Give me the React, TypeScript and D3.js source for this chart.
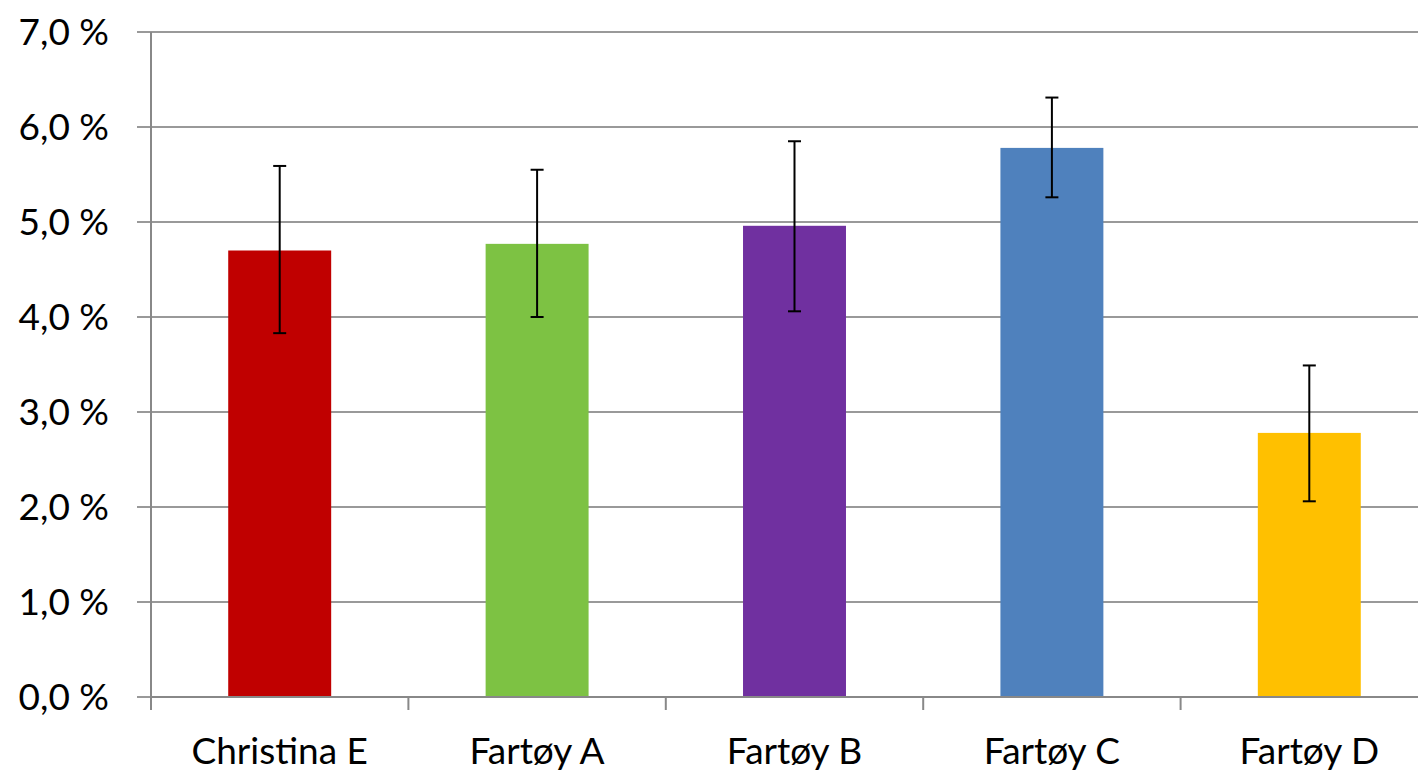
import React from "react";
import * as d3 from "d3";

const categories = ["Christina E", "Fartøy A", "Fartøy B", "Fartøy C", "Fartøy D"];
const values = [4.7, 4.77, 4.96, 5.78, 2.78];
const errLow = [3.83, 4.0, 4.06, 5.26, 2.06];
const errHigh = [5.59, 5.55, 5.85, 6.31, 3.49];
const barColors = ["#C00000", "#7DC243", "#7030A0", "#4F81BD", "#FFC000"];
const yTicks = [0, 1, 2, 3, 4, 5, 6, 7];

const W = 1418;
const H = 774;
const margin = { left: 151, top: 32, right: -20, bottom: 77 };

export default function App() {
  const innerW = W - margin.left - margin.right;
  const innerH = H - margin.top - margin.bottom;

  const x = d3.scaleBand<string>().domain(categories).range([0, innerW]).padding(0);
  const y = d3.scaleLinear().domain([0, 7]).range([innerH, 0]);
  const barW = x.bandwidth() * 0.4;
  const fmt = (v: number) => v.toFixed(1).replace(".", ",") + " %";
  const font = "Lato, 'Open Sans', sans-serif";

  return (
    <svg
      width={W}
      height={H}
      style={{ position: "absolute", left: 0, top: 0, background: "#fff" }}
    >
      <g transform={`translate(${margin.left},${margin.top})`}>
        {yTicks.map((t) => (
          <g key={t}>
            <line x1={-14} x2={innerW} y1={y(t)} y2={y(t)} stroke="#999" strokeWidth={2} />
            <text
              x={-42}
              y={y(t)}
              dy="0.36em"
              textAnchor="end"
              fontFamily={font}
              fontSize={37}
              fill="#000"
            >
              {fmt(t)}
            </text>
          </g>
        ))}
        <line x1={0} x2={0} y1={0} y2={innerH + 13} stroke="#888" strokeWidth={2} />
        {categories.map((c, i) => (
          <line
            key={"t" + i}
            x1={x(c)! + x.bandwidth()}
            x2={x(c)! + x.bandwidth()}
            y1={innerH}
            y2={innerH + 13}
            stroke="#888"
            strokeWidth={2}
          />
        ))}
        {categories.map((c, i) => {
          const cx = x(c)! + x.bandwidth() / 2;
          return (
            <g key={c}>
              <rect
                x={cx - barW / 2}
                width={barW}
                y={y(values[i])}
                height={innerH - y(values[i])}
                fill={barColors[i]}
              />
              <line x1={cx} x2={cx} y1={y(errHigh[i])} y2={y(errLow[i])} stroke="#000" strokeWidth={2} />
              <line x1={cx - 6.5} x2={cx + 6.5} y1={y(errHigh[i])} y2={y(errHigh[i])} stroke="#000" strokeWidth={2} />
              <line x1={cx - 6.5} x2={cx + 6.5} y1={y(errLow[i])} y2={y(errLow[i])} stroke="#000" strokeWidth={2} />
              <text
                x={cx}
                y={innerH + 67}
                textAnchor="middle"
                fontFamily={font}
                fontSize={37}
                fill="#000"
              >
                {c}
              </text>
            </g>
          );
        })}
        <line x1={0} x2={innerW} y1={innerH} y2={innerH} stroke="#888" strokeWidth={2} />
      </g>
    </svg>
  );
}
